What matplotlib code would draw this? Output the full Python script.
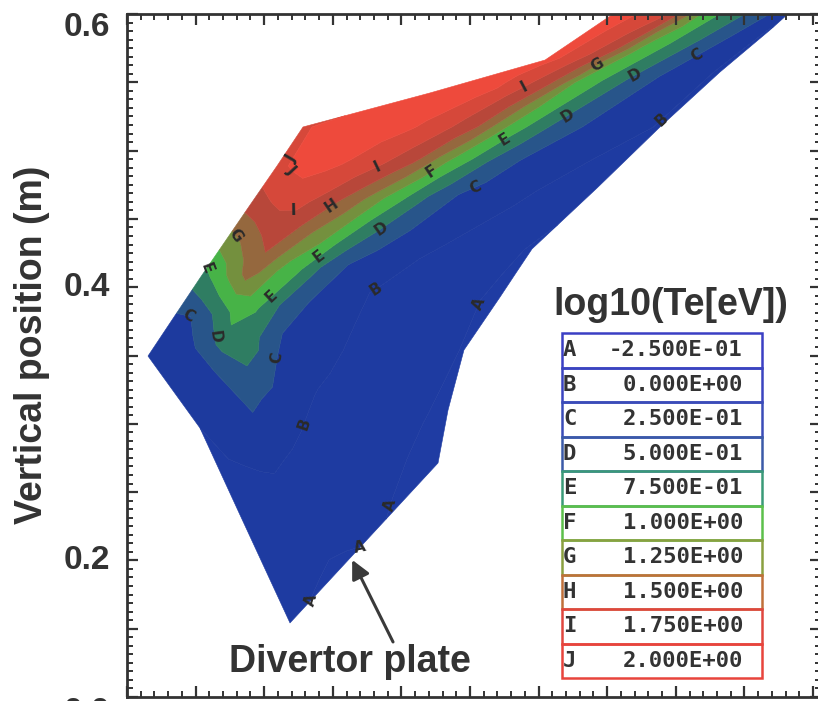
import matplotlib
matplotlib.use("Agg")
import matplotlib.pyplot as plt
import numpy as np
from matplotlib.patches import Rectangle
from matplotlib.ticker import MultipleLocator
from matplotlib import transforms

# contour levels of log10(Te) and the letters IDL puts on them
levels = [-0.25, 0.0, 0.25, 0.5, 0.75, 1.0, 1.25, 1.5, 1.75, 2.0]
letters = ["A", "B", "C", "D", "E", "F", "G", "H", "I", "J"]

# grid rows of the divertor leg, row 0 is the plate; every row runs from the
# hot (upper-left) boundary to the cold (lower-right) boundary  [m]
hot_r = [0.5188, 0.4824, 0.4532, 0.4153, 0.4328, 0.4532, 0.4897, 0.5093, 0.5283, 0.6208, 0.7047, 0.7856]
hot_z = [0.1542, 0.2332, 0.2969, 0.3496, 0.3760, 0.4067, 0.4602, 0.4887, 0.5173, 0.5422, 0.5663, 0.6212]
cold_r = [0.6267, 0.6340, 0.6456, 0.6719, 0.6835, 0.6952, 0.7426, 0.7652, 0.7885, 0.8322, 0.8687, 0.9095]
cold_z = [0.2713, 0.3101, 0.3540, 0.3928, 0.4104, 0.4280, 0.4726, 0.4946, 0.5173, 0.5575, 0.5883, 0.6249]
col_frac = [0, .05, .1, .15, .2, .25, .3, .35, .4, .45, .5, .55, .6, .65, .7, .8, .9, 1.0]

log_te = [
    [-0.20, -0.219, -0.237, -0.253, -0.262, -0.271, -0.28, -0.271, -0.263, -0.254, -0.245, -0.235, -0.243, -0.25, -0.26, -0.281, -0.301, -0.32],
    [-0.05, -0.058, -0.067, -0.075, -0.083, -0.092, -0.10, -0.113, -0.125, -0.138, -0.15, -0.163, -0.176, -0.189, -0.202, -0.227, -0.255, -0.30],
    [0.00, 0.04, 0.08, 0.15, 0.25, 0.178, 0.13, 0.079, 0.028, -0.01, -0.032, -0.054, -0.076, -0.098, -0.12, -0.165, -0.209, -0.26],
    [0.02, 0.07, 0.13, 0.304, 0.531, 0.686, 0.584, 0.324, 0.207, 0.152, 0.097, 0.042, -0.008, -0.042, -0.076, -0.144, -0.211, -0.30],
    [0.18, 0.232, 0.418, 0.652, 0.914, 0.759, 0.536, 0.387, 0.253, 0.175, 0.098, 0.021, -0.022, -0.053, -0.084, -0.146, -0.208, -0.28],
    [0.62, 0.833, 1.104, 1.374, 1.142, 0.914, 0.784, 0.544, 0.372, 0.239, 0.181, 0.124, 0.067, 0.009, -0.032, -0.107, -0.183, -0.27],
    [1.60, 1.719, 1.821, 1.795, 1.684, 1.528, 1.364, 1.163, 0.931, 0.757, 0.543, 0.388, 0.249, 0.195, 0.141, 0.032, -0.091, -0.22],
    [1.93, 2.038, 2.094, 2.042, 1.98, 1.872, 1.763, 1.622, 1.458, 1.179, 0.909, 0.724, 0.509, 0.354, 0.232, 0.118, 0.003, -0.10],
    [1.95, 2.05, 2.125, 2.20, 2.144, 2.088, 2.031, 1.94, 1.804, 1.647, 1.455, 1.105, 0.855, 0.653, 0.454, 0.206, 0.09, -0.02],
    [2.10, 2.163, 2.175, 2.113, 2.05, 1.972, 1.833, 1.692, 1.547, 1.333, 1.0, 0.867, 0.733, 0.593, 0.458, 0.23, 0.099, -0.03],
    [2.10, 2.028, 1.941, 1.845, 1.75, 1.634, 1.519, 1.343, 1.094, 0.938, 0.849, 0.761, 0.67, 0.58, 0.49, 0.317, 0.14, -0.02],
    [2.15, 2.127, 2.105, 2.082, 2.06, 2.037, 2.015, 1.931, 1.733, 1.564, 1.356, 0.995, 0.916, 0.837, 0.758, 0.603, 0.443, 0.27],
]

# where the contour letters sit (r, z)
label_spots = {
    "A": [(0.5334, 0.1688), (0.5698, 0.2098), (0.5866, 0.2420), (0.6631, 0.3848)],
    "B": [(0.5246, 0.3013), (0.5793, 0.4016), (0.7899, 0.5224)],
    "C": [(0.4474, 0.3906), (0.5042, 0.3489), (0.6522, 0.4770), (0.8191, 0.5627)],
    "D": [(0.4641, 0.3635), (0.5793, 0.4514), (0.7192, 0.5283), (0.7688, 0.5575)],
    "E": [(0.4678, 0.4184), (0.5042, 0.3943), (0.5385, 0.4250), (0.6741, 0.5092)],
    "F": [(0.6208, 0.4858)],
    "G": [(0.4845, 0.4419), (0.7448, 0.5590)],
    "H": [(0.5480, 0.4602)],
    "I": [(0.5210, 0.4543), (0.5844, 0.4836), (0.6937, 0.5392)],
    "J": [(0.5188, 0.4946), (0.5093, 0.4770)],
}

band_colors = ["#1f3ca3", "#1e3ba1", "#1d3a9e", "#28558a", "#2f7d62", "#47b347",
               "#74903e", "#95683e", "#b8473a", "#d6483a", "#ee4a3c"]
line_colors = ["#3b3fc4", "#3b44c0", "#3a4cb8", "#3b5aa8", "#3a9a78",
               "#5cc04a", "#8aa040", "#c0703a", "#e0463e", "#e8443c"]

ink = "#333333"
bold = dict(family="Liberation Sans", weight="bold", color=ink)


def main():
    fig = plt.figure(figsize=(8.18, 7.01), dpi=100)
    ax = fig.add_axes([127 / 818, 4 / 701, 694 / 818, 683 / 701])

    f = np.array(col_frac)
    hr, hz = np.array(hot_r), np.array(hot_z)
    cr, cz = np.array(cold_r), np.array(cold_z)
    R = hr[:, None] + f[None, :] * (cr - hr)[:, None]
    Z = hz[:, None] + f[None, :] * (cz - hz)[:, None]
    T = np.array(log_te)

    bounds = [-0.6] + levels + [2.6]
    cf = ax.contourf(R, Z, T, levels=bounds, colors=band_colors, antialiased=True)
    cf.set_edgecolor("face")
    cf.set_linewidth(0.4)

    # one invisible contour per level so each letter lands on its own line
    for lev, let in zip(levels, letters):
        cs = ax.contour(R, Z, T, levels=[lev], linewidths=0)
        txts = ax.clabel(cs, manual=label_spots[let], inline=False,
                         fmt={lev: let}, fontsize=11, colors="#2a2a2a")
        for t in txts:
            t.set_fontweight("bold")

    ax.set_xlim(0.40, 0.40 + 694 / 1372)
    ax.set_ylim(0.10, 0.60)
    ax.xaxis.set_major_locator(MultipleLocator(0.05))
    ax.xaxis.set_minor_locator(MultipleLocator(0.01))
    ax.yaxis.set_major_locator(MultipleLocator(0.05))
    ax.yaxis.set_minor_locator(MultipleLocator(0.00625))
    ax.tick_params(which="both", direction="in", top=True, right=True,
                   labelbottom=False, labelleft=False, color=ink)
    ax.tick_params(which="major", length=8, width=1.6)
    ax.tick_params(which="minor", length=4.5, width=1.4)
    for sp in ax.spines.values():
        sp.set_linewidth(2.0)
        sp.set_color(ink)

    # y tick labels, IDL style
    ytrans = transforms.blended_transform_factory(ax.transAxes, ax.transData)
    for val in (0.2, 0.4, 0.6):
        tr = ytrans
        if val == 0.6:
            tr = ytrans + transforms.ScaledTranslation(0, -0.14, fig.dpi_scale_trans)
        ax.text(-0.0245, val, f"{val:.1f}", transform=tr, ha="right", va="center",
                fontsize=24, clip_on=False, **bold)
    fig.text(110 / 818, 4 / 701, "0.0", ha="right", va="top", fontsize=24, **bold)

    fig.text(32 / 818, 1 - 345 / 701, "Vertical position (m)", rotation=90,
             ha="center", va="center", fontsize=27, **bold)

    # divertor plate annotation
    tip = 0.42
    tip_r = hot_r[0] + tip * (cold_r[0] - hot_r[0])
    tip_z = hot_z[0] + tip * (cold_z[0] - hot_z[0])
    ax.annotate("", xy=(tip_r, tip_z - 0.003), xytext=(0.5939, 0.1403),
                arrowprops=dict(arrowstyle="-|>", color="#3a3a3a", lw=2.2,
                                mutation_scale=28, shrinkA=0, shrinkB=0))
    fig.text(350 / 818, 1 - 662 / 701, "Divertor plate", ha="center", va="center",
             fontsize=27, **bold)

    # level legend
    fig.text(671 / 818, 1 - 305 / 701, "log10(Te[eV])", ha="center", va="center",
             fontsize=27, **bold)
    x0, x1 = 562 / 818, 762 / 818
    top, h = 1 - 333 / 701, 34.5 / 701
    for i, (lev, let, col) in enumerate(zip(levels, letters, line_colors)):
        yb = top - (i + 1) * h
        fig.add_artist(Rectangle((x0, yb), x1 - x0, h, transform=fig.transFigure,
                                 fill=False, edgecolor=col, linewidth=1.8))
        fig.text(x0 + 1 / 818, yb + h / 2, let, ha="left", va="center",
                 family="DejaVu Sans Mono", weight="bold", fontsize=16, color=ink)
        fig.text(743 / 818, yb + h / 2, f"{lev:.3E}", ha="right", va="center",
                 family="DejaVu Sans Mono", weight="bold", fontsize=16, color=ink)

    fig.savefig("out.png", dpi=100)


if __name__ == "__main__":
    main()
